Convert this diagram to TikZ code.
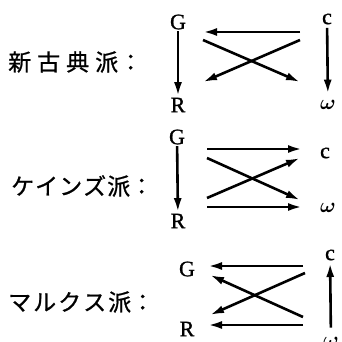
\documentclass[tikz,border=0pt]{standalone}
\usepackage{amsmath}
\usepackage{bm}
\usepackage{fontspec}
\setmainfont{Liberation Serif}
\newfontfamily\latfont[FakeBold=1.2]{Liberation Serif}
\newfontfamily\jpfont[FakeBold=0.8]{Noto Sans CJK JP}
\usetikzlibrary{arrows.meta}
\tikzset{
  arr/.style={line width=2.6pt,-{Latex[length=14pt,width=8pt]}},
  var/.style={inner sep=1.5pt,font=\latfont\fontsize{22}{24}\selectfont},
  om/.style={inner sep=1.5pt,font=\fontsize{22}{24}\selectfont},
  jp/.style={anchor=west,inner sep=0pt,font=\jpfont\fontsize{23}{25}\selectfont}
}
\begin{document}
\begin{tikzpicture}[x=1pt,y=-1pt]
\useasboundingbox (0,0) rectangle (341,342);
% ---------- section 1
\node[jp] (L1) at (8,62) {新\hspace{6pt}古\hspace{6pt}典\hspace{6pt}派\hspace{1pt}：};
\node[var] (G1) at (178,22) {G};
\node[var] (R1) at (178,105) {R};
\node[var] (c1) at (327,19) {c};
\node[om] (w1) at (328,105) {$\bm{\omega}$};
\draw[arr] (G1) -- (R1);
\draw[arr,shorten <=2pt,shorten >=5pt] (c1) -- (w1);
\coordinate (a1) at (300,32); \coordinate (b1) at (203,32);
\coordinate (p1) at (300,40); \coordinate (q1) at (203,82);
\coordinate (r1) at (203,40); \coordinate (s1) at (300,82);
\draw[arr] (a1) -- (b1);
\draw[arr] (p1) -- (q1);
\draw[arr] (r1) -- (s1);
% ---------- section 2
\node[jp] (L2) at (11,186) {ケ\hspace{1pt}イ\hspace{1pt}ン\hspace{1pt}ズ\hspace{1pt}派：};
\node[var] (G2) at (177,137) {G};
\node[var] (R2) at (178,221) {R};
\node[var] (c2) at (325,153) {c};
\node[om] (w2) at (328,208) {$\bm{\omega}$};
\draw[arr] (G2) -- (R2);
\coordinate (a2) at (207,149); \coordinate (b2) at (302,149);
\coordinate (p2) at (207,158); \coordinate (q2) at (300,200);
\coordinate (r2) at (207,198); \coordinate (s2) at (300,158);
\coordinate (t2) at (207,207); \coordinate (u2) at (302,207);
\draw[arr] (a2) -- (b2);
\draw[arr] (p2) -- (q2);
\draw[arr] (r2) -- (s2);
\draw[arr] (t2) -- (u2);
% ---------- section 3
\node[jp] (L3) at (8,302) {マ\hspace{2pt}ル\hspace{2pt}ク\hspace{2pt}ス\hspace{2pt}派：};
\node[var] (G3) at (187,269) {G};
\node[var] (R3) at (187,329) {R};
\node[var] (c3) at (330,255) {c};
\node[om] (w3) at (331,342) {$\bm{\omega}$};
\draw[arr,shorten <=8pt,shorten >=1pt] (w3) -- (c3);
\coordinate (a3) at (303,266); \coordinate (b3) at (208,266);
\coordinate (p3) at (305,273); \coordinate (q3) at (210,315);
\coordinate (r3) at (303,317); \coordinate (s3) at (210,275);
\coordinate (t3) at (303,325); \coordinate (u3) at (208,325);
\draw[arr] (a3) -- (b3);
\draw[arr] (p3) -- (q3);
\draw[arr] (r3) -- (s3);
\draw[arr] (t3) -- (u3);
\end{tikzpicture}
\end{document}
